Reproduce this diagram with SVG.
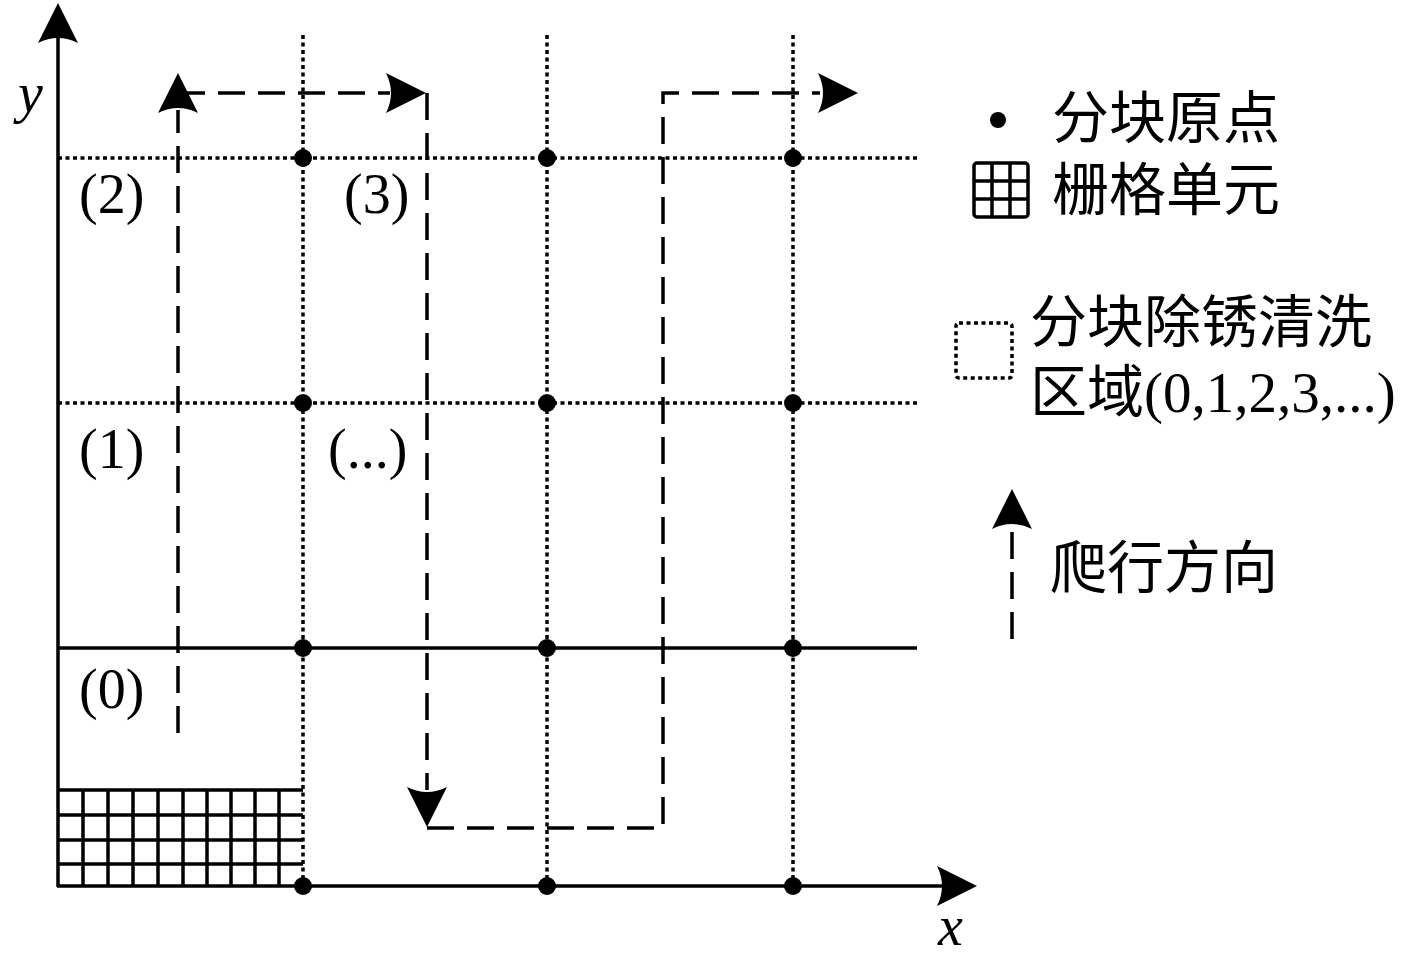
<svg xmlns="http://www.w3.org/2000/svg" width="1417" height="955" viewBox="0 0 1417 955">
<style>
.solid{stroke:#000;stroke-width:3.5;fill:none}
.dot{stroke:#000;stroke-width:3.5;fill:none;stroke-dasharray:4 3.5}
.dash{stroke:#000;stroke-width:3.5;fill:none;stroke-dasharray:27 13}
.lbl{font-family:"Liberation Serif",serif;font-size:56px;fill:#000}
.cjk{font-family:"Liberation Serif","Noto Sans CJK SC",sans-serif;font-size:57px;fill:#000}
.ital{font-family:"Liberation Serif",serif;font-style:italic;font-size:56px;fill:#000}
</style>
<defs>
<path id="ah" d="M0,0 L-40,-20 Q-30,0 -40,20 Z" fill="#000"/>
<circle id="pt" r="9" fill="#000"/>
</defs>
<g id="grid-lines">
<line class="dot" x1="58" y1="158" x2="917" y2="158"/>
<line class="dot" x1="58" y1="403" x2="917" y2="403"/>
<line class="dot" x1="303" y1="35" x2="303" y2="886"/>
<line class="dot" x1="547" y1="35" x2="547" y2="886"/>
<line class="dot" x1="793" y1="35" x2="793" y2="886"/>
<line class="solid" x1="58" y1="648" x2="917" y2="648"/>
</g>
<g id="axes">
<line class="solid" x1="58" y1="887" x2="58" y2="30"/>
<line class="solid" x1="57" y1="886" x2="945" y2="886"/>
<use href="#ah" transform="translate(58,3) rotate(-90)"/>
<use href="#ah" transform="translate(977,886)"/>
<text class="ital" x="18" y="112">y</text>
<text class="ital" x="938" y="945">x</text>
</g>
<g id="cells">
<path class="solid" stroke-width="4" d="M58,790 H303 M58,815 H303 M58,840 H303 M58,864 H303 M83,790 V886 M108,790 V886 M133,790 V886 M158,790 V886 M183,790 V886 M207,790 V886 M231,790 V886 M255,790 V886 M279,790 V886"/>
</g>
<g id="origins">
<use href="#pt" x="303" y="158"/><use href="#pt" x="547" y="158"/><use href="#pt" x="793" y="158"/>
<use href="#pt" x="303" y="403"/><use href="#pt" x="547" y="403"/><use href="#pt" x="793" y="403"/>
<use href="#pt" x="303" y="648"/><use href="#pt" x="547" y="648"/><use href="#pt" x="793" y="648"/>
<use href="#pt" x="303" y="886"/><use href="#pt" x="547" y="886"/><use href="#pt" x="793" y="886"/>
</g>
<g id="connectors">
<path class="dash" d="M178,733 V110"/>
<path class="dash" d="M178,93 H390"/>
<path class="dash" d="M427,93 V790"/>
<path class="dash" d="M427,828 H663 V93 H820"/>
<use href="#ah" transform="translate(178,73) rotate(-90)"/>
<use href="#ah" transform="translate(426,93)"/>
<use href="#ah" transform="translate(427,827) rotate(90)"/>
<use href="#ah" transform="translate(858,93)"/>
</g>
<g id="region-labels">
<text class="lbl" x="79" y="213">(2)</text>
<text class="lbl" x="344" y="213">(3)</text>
<text class="lbl" x="79" y="468">(1)</text>
<text class="lbl" x="328" y="468">(...)</text>
<text class="lbl" x="79" y="708">(0)</text>
</g>
<g id="legend-origin">
<circle cx="998" cy="120" r="8" fill="#000"/>
<text class="cjk" x="1052" y="138">分块原点</text>
</g>
<g id="legend-cell">
<rect x="974" y="163" width="54" height="54" rx="3" class="solid" stroke-width="4.5"/>
<path class="solid" stroke-width="4.5" d="M992,163 V217 M1010,163 V217 M974,181 H1028 M974,199 H1028"/>
<text class="cjk" x="1052" y="210">栅格单元</text>
</g>
<g id="legend-region">
<rect x="956" y="323" width="56" height="55" rx="3" class="dot" stroke-dasharray="6 4" stroke-width="4"/>
<text class="cjk" x="1030" y="342">分块除锈清洗</text>
<text class="cjk" x="1030" y="412">区域(0,1,2,3,...)</text>
</g>
<g id="legend-crawl">
<path class="dash" d="M1012,532 V640" stroke-dasharray="24 16"/>
<use href="#ah" transform="translate(1012,489) rotate(-90)"/>
<text class="cjk" x="1050" y="588">爬行方向</text>
</g>
</svg>
